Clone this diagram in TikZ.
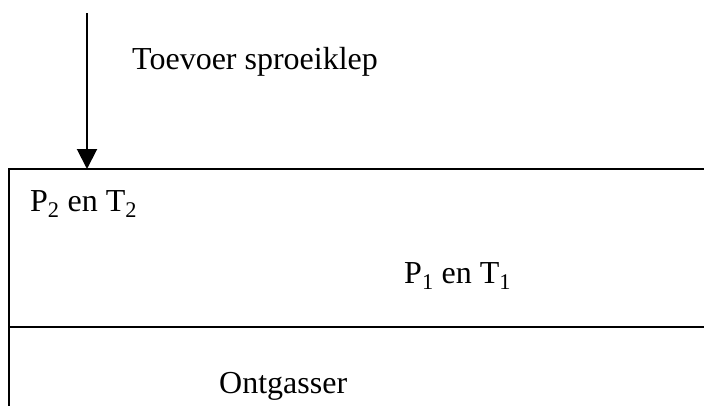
\documentclass[tikz,border=0pt]{standalone}
\usepackage{fontspec}
\setmainfont{Liberation Serif}
\usetikzlibrary{arrows.meta}
\tikzset{
  lbl/.style={anchor=base west, inner sep=0pt, font=\fontsize{32}{38}\selectfont},
  wall/.style={line width=2pt, line cap=rect},
  feed/.style={line width=2pt, -{Triangle[length=20pt,width=20pt]}}
}
\begin{document}
\begin{tikzpicture}[x=1pt,y=-1pt]
\useasboundingbox (0,0) rectangle (704,405);
\coordinate (tl) at (9,169);
\coordinate (tr) at (704,169);
\coordinate (ml) at (9,327);
\coordinate (mr) at (704,327);
\coordinate (bl) at (9,405);
\coordinate (ftop) at (87,13);
\coordinate (ftip) at (87,169);
\draw[wall] (tr) -- (tl) -- (bl);
\draw[wall] (ml) -- (mr);
\draw[feed] (ftop) -- (ftip);
\node[lbl] (toevoer) at (132,69) {Toevoer sproeiklep};
\node[lbl] (p2) at (30,211) {P\textsubscript{2} en T\textsubscript{2}};
\node[lbl] (p1) at (404,283) {P\textsubscript{1} en T\textsubscript{1}};
\node[lbl] (ont) at (219,393) {Ontgasser};
\end{tikzpicture}
\end{document}
